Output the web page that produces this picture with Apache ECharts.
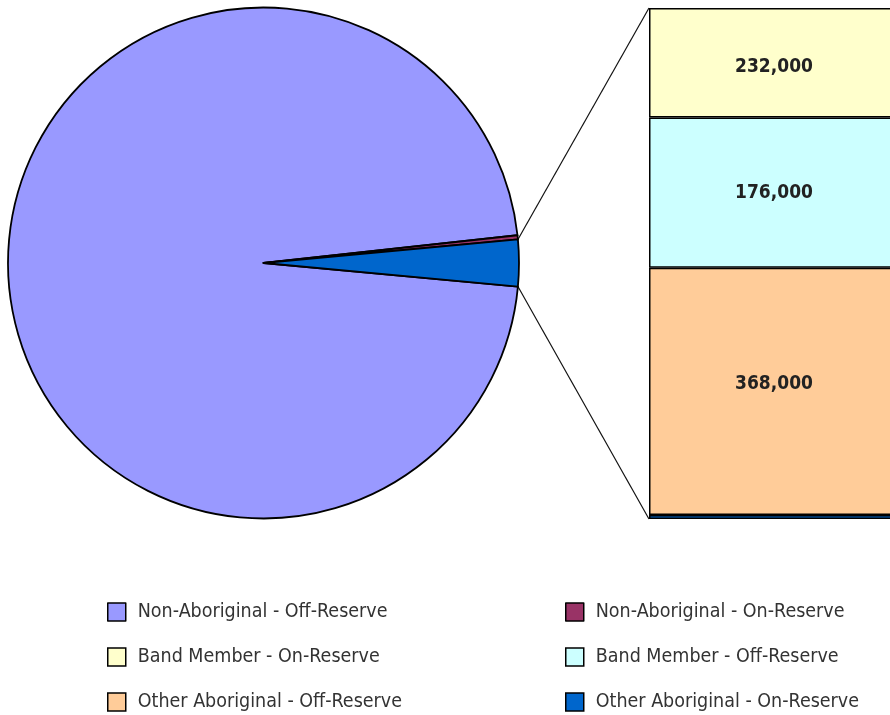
<!DOCTYPE html>
<html>
<head>
<meta charset="utf-8">
<script src="https://cdn.jsdelivr.net/npm/echarts@6/dist/echarts.min.js"></script>
<style>
  html, body { margin: 0; background: #fff; }
  #main { width: 890px; height: 715px; }
</style>
</head>
<body>
<div id="main"></div>
<script>
// pie slices (the "other" slice is the sum of the bar)
var pieNames = ['Non-Aboriginal - Off-Reserve', 'Non-Aboriginal - On-Reserve'];
var pieValues = [25050000, 68000];
var pieColors = ['#9999FF', '#993366'];
var otherColor = '#0066CC';

// bar of pie, bottom to top
var barNames = ['Other Aboriginal - On-Reserve', 'Other Aboriginal - Off-Reserve', 'Band Member - Off-Reserve', 'Band Member - On-Reserve'];
var barValues = [6000, 368000, 224000, 163000];
var barLabels = ['', '368,000', '176,000', '232,000'];
var barColors = ['#0066CC', '#FFCC99', '#CCFFFF', '#FFFFCC'];
var labelShift = [0, -7, 0, 4];

var legendLeft = ['Non-Aboriginal - Off-Reserve', 'Band Member - On-Reserve', 'Other Aboriginal - Off-Reserve'];
var legendRight = ['Non-Aboriginal - On-Reserve', 'Band Member - Off-Reserve', 'Other Aboriginal - On-Reserve'];

var FONT = '"Liberation Sans Narrow", "DejaVu Sans Condensed", sans-serif';
var pieCenter = [263.5, 263];
var pieRadius = 255.5;

var barTotal = barValues.reduce(function (a, b) { return a + b; }, 0);
var pieTotal = pieValues.reduce(function (a, b) { return a + b; }, 0) + barTotal;
var halfAngle = barTotal / pieTotal * 180;

var pieData = pieNames.map(function (n, i) {
    return {name: n, value: pieValues[i], itemStyle: {color: pieColors[i]}};
});
pieData.push({name: 'Other', value: barTotal, itemStyle: {color: otherColor}});

var barSeries = barNames.map(function (n, i) {
    return {
        name: n,
        type: 'bar',
        stack: 'other',
        barWidth: '100%',
        data: [barValues[i]],
        itemStyle: {color: barColors[i], borderColor: '#000', borderWidth: 1.5},
        label: {
            show: barLabels[i] !== '',
            position: 'inside',
            offset: [0, labelShift[i]],
            formatter: barLabels[i],
            fontFamily: FONT,
            fontWeight: 'bold',
            fontSize: 19,
            color: '#222'
        }
    };
});

function legendAt(left, names) {
    return {
        orient: 'vertical',
        left: left,
        top: 602,
        height: 130,
        padding: 0,
        itemGap: 25,
        itemWidth: 18,
        itemHeight: 18,
        icon: 'rect',
        data: names,
        selectedMode: false,
        itemStyle: {borderColor: '#000', borderWidth: 1.5},
        textStyle: {fontFamily: FONT, fontSize: 19.5, lineHeight: 20, color: '#333', padding: [0, 0, 0, 7]}
    };
}

var chart = echarts.init(document.getElementById('main'));
chart.setOption({
    animation: false,
    legend: [legendAt(107, legendLeft), legendAt(565, legendRight)],
    grid: {left: 649, top: 8, width: 250, height: 511, outerBoundsMode: 'none'},
    xAxis: {type: 'category', data: ['other'], show: false},
    yAxis: {type: 'value', min: 0, max: barTotal, show: false},
    series: [{
        type: 'pie',
        center: pieCenter,
        radius: pieRadius,
        startAngle: -halfAngle,
        clockwise: true,
        label: {show: false},
        labelLine: {show: false},
        itemStyle: {borderColor: '#000', borderWidth: 1.8},
        emphasis: {disabled: true},
        data: pieData
    }].concat(barSeries)
});

// connector lines from the "other" slice to the bar
var rad = halfAngle * Math.PI / 180;
var px = pieCenter[0] + pieRadius * Math.cos(rad);
var pyTop = pieCenter[1] - pieRadius * Math.sin(rad);
var pyBot = pieCenter[1] + pieRadius * Math.sin(rad);
var barTop = chart.convertToPixel({yAxisIndex: 0}, barTotal);
var barBot = chart.convertToPixel({yAxisIndex: 0}, 0);
chart.setOption({
    graphic: [
        {type: 'line', shape: {x1: px, y1: pyTop, x2: 649, y2: barTop}, style: {stroke: '#111', lineWidth: 1.2}},
        {type: 'line', shape: {x1: px, y1: pyBot, x2: 649, y2: barBot}, style: {stroke: '#111', lineWidth: 1.2}}
    ]
});
</script>
</body>
</html>
